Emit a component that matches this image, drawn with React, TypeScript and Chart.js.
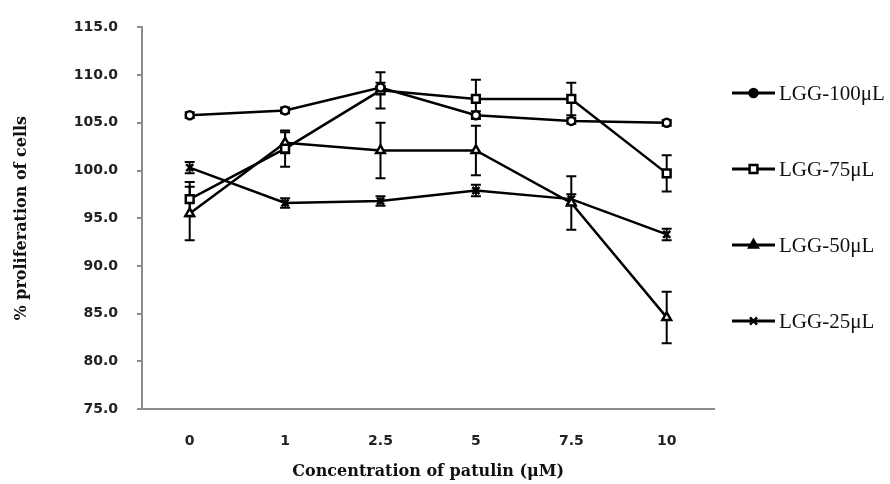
import React, { useEffect, useRef } from "react";
import { Chart, registerables } from "chart.js";
import { drawPoint } from "chart.js/helpers";

Chart.register(...registerables);

const categories = ["0", "1", "2.5", "5", "7.5", "10"];
const seriesNames = ["LGG-100μL", "LGG-75μL", "LGG-50μL", "LGG-25μL"];
const lgg100 = [105.8, 106.3, 108.7, 105.8, 105.2, 105.0];
const err100 = [0.3, 0.3, 0.5, 0.4, 0.3, 0.3];
const lgg75 = [97.0, 102.3, 108.4, 107.5, 107.5, 99.7];
const err75 = [1.8, 1.9, 1.9, 2.0, 1.7, 1.9];
const lgg50 = [95.5, 102.9, 102.1, 102.1, 96.6, 84.6];
const err50 = [2.8, 1.1, 2.9, 2.6, 2.8, 2.7];
const lgg25 = [100.3, 96.6, 96.8, 97.9, 97.0, 93.3];
const err25 = [0.6, 0.5, 0.5, 0.6, 0.5, 0.6];
const yTicks = [75, 80, 85, 90, 95, 100, 105, 110, 115];

const errors = [err100, err75, err50, err25];
const pointStyles = ["circle", "rect", "triangle", "crossRot"];
const pointRadii = [4, 5.5, 5, 5];
const legendFills = ["#000", "#fff", "#000", "#000"];

const errorBarPlugin = {
  id: "errorBars",
  beforeDatasetsDraw(chart: any) {
    const { ctx } = chart;
    const y = chart.scales.y;
    ctx.save();
    ctx.strokeStyle = "#000";
    ctx.lineWidth = 2;
    chart.data.datasets.forEach((ds: any, di: number) => {
      const meta = chart.getDatasetMeta(di);
      meta.data.forEach((pt: any, i: number) => {
        const v = ds.data[i];
        const e = errors[di][i];
        const top = y.getPixelForValue(v + e);
        const bot = y.getPixelForValue(v - e);
        const x = pt.x;
        ctx.beginPath();
        ctx.moveTo(x, top);
        ctx.lineTo(x, bot);
        ctx.moveTo(x - 5, top);
        ctx.lineTo(x + 5, top);
        ctx.moveTo(x - 5, bot);
        ctx.lineTo(x + 5, bot);
        ctx.stroke();
      });
    });
    ctx.restore();
  },
};

const legendPlugin = {
  id: "sideLegend",
  afterDraw(chart: any) {
    const { ctx } = chart;
    const startY = 93;
    const gap = 76;
    const x0 = 732;
    const x1 = 775;
    ctx.save();
    chart.data.datasets.forEach((ds: any, i: number) => {
      const yy = startY + i * gap;
      ctx.strokeStyle = "#000";
      ctx.lineWidth = 3;
      ctx.beginPath();
      ctx.moveTo(x0, yy);
      ctx.lineTo(x1, yy);
      ctx.stroke();
      ctx.fillStyle = legendFills[i];
      ctx.strokeStyle = "#000";
      ctx.lineWidth = 2.5;
      drawPoint(
        ctx,
        { pointStyle: pointStyles[i], radius: pointRadii[i], rotation: 0, borderWidth: 2.5 } as any,
        (x0 + x1) / 2,
        yy
      );
      ctx.fillStyle = "#111";
      ctx.font = "21px 'Liberation Serif'";
      ctx.textAlign = "left";
      ctx.textBaseline = "middle";
      ctx.fillText(ds.label, 779, yy + 1);
    });
    ctx.restore();
  },
};

export default function App() {
  const ref = useRef<HTMLCanvasElement>(null);
  useEffect(() => {
    if (!ref.current) return;
    const all = [lgg100, lgg75, lgg50, lgg25];
    const chart = new Chart(ref.current, {
      type: "line",
      data: {
        labels: categories,
        datasets: all.map((d, i) => ({
          label: seriesNames[i],
          data: d,
          borderColor: "#000",
          backgroundColor: "#fff",
          borderWidth: 2.5,
          pointStyle: pointStyles[i] as any,
          pointRadius: pointRadii[i],
          pointBorderWidth: 2.5,
          pointBackgroundColor: "#fff",
          pointBorderColor: "#000",
          tension: 0,
        })),
      },
      options: {
        responsive: false,
        animation: false,
        layout: { padding: { top: 23, right: 175.6, bottom: 0, left: 0 } },
        plugins: { legend: { display: false }, tooltip: { enabled: false } },
        scales: {
          x: {
            type: "category",
            offset: true,
            grid: { display: false },
            border: { display: true, color: "#8c8c8c", width: 2 },
            ticks: {
              color: "#222",
              padding: 16,
              font: { family: "'DejaVu Sans'", size: 14, weight: "bold" },
            },
            title: {
              display: true,
              text: "Concentration of patulin (μM)",
              color: "#111",
              font: { family: "'DejaVu Serif'", size: 16, weight: "bold" },
              padding: { top: 4, bottom: 3 },
            },
            afterFit: (s: any) => {
              s.height = 75;
            },
          },
          y: {
            min: 75,
            max: 115,
            afterBuildTicks: (s: any) => {
              s.ticks = yTicks.map((v) => ({ value: v }));
            },
            grid: {
              display: true,
              drawOnChartArea: false,
              drawTicks: true,
              tickLength: 5,
              color: "#8c8c8c",
              lineWidth: 2,
            },
            border: { display: true, color: "#8c8c8c", width: 2 },
            ticks: {
              color: "#222",
              padding: 19,
              font: { family: "'DejaVu Sans'", size: 14, weight: "bold" },
              callback: (v: any) => Number(v).toFixed(1),
            },
            title: {
              display: true,
              text: "% proliferation of cells",
              color: "#111",
              font: { family: "'DejaVu Serif'", size: 16, weight: "bold" },
              padding: { top: 12, bottom: 4 },
            },
            afterFit: (s: any) => {
              s.width = 142;
            },
          },
        },
      },
      plugins: [errorBarPlugin, legendPlugin],
    });
    return () => chart.destroy();
  }, []);
  return (
    <div style={{ position: "absolute", left: 0, top: 0, width: 890, height: 484, background: "#fff" }}>
      <canvas ref={ref} width={890} height={484} style={{ display: "block" }} />
    </div>
  );
}
